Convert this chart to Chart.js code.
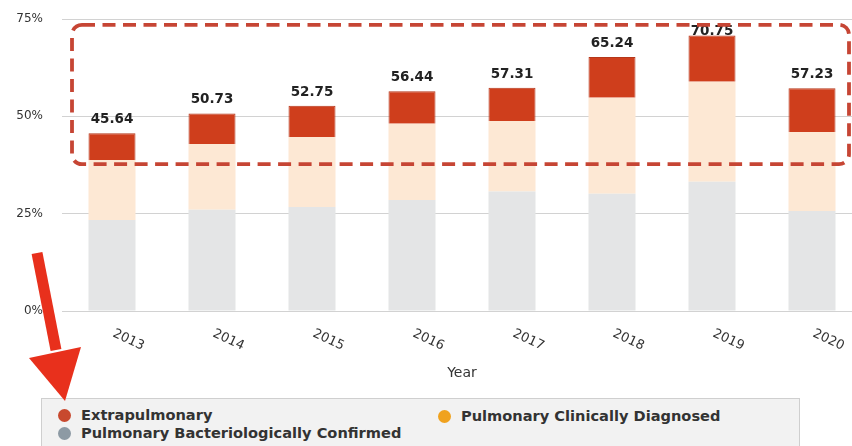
<!DOCTYPE html>
<html>
<head>
<meta charset="utf-8">
<script src="https://cdn.jsdelivr.net/npm/chart.js@4/dist/chart.umd.min.js"></script>
<style>
  html, body { margin: 0; padding: 0; background: #fff; overflow: hidden; }
  #wrap { position: relative; width: 872px; height: 446px; }
  #chart { position: absolute; left: 0; top: 0; z-index: 2; }
  #legendBox { position: absolute; left: 41px; top: 398px; width: 757px; height: 60px;
    background: #f2f2f2; border: 1px solid #cfcfcf; z-index: 1; }
  .item { position: absolute; z-index: 1; height: 18px; line-height: 18px; white-space: nowrap;
    font: bold 14.6px "DejaVu Sans", sans-serif; color: #333; }
  .dot { display: inline-block; width: 13px; height: 13px; border-radius: 50%;
    vertical-align: -2px; margin-right: 10px; }
</style>
</head>
<body>
<div id="wrap">
  <div id="legendBox"></div>
  <div class="item" style="left:58px; top:406px;"><span class="dot" style="background:#c8492e"></span>Extrapulmonary</div>
  <div class="item" style="left:58px; top:424px;"><span class="dot" style="background:#8d9aa4"></span>Pulmonary Bacteriologically Confirmed</div>
  <div class="item" style="left:438px; top:407px;"><span class="dot" style="background:#f0a21e"></span>Pulmonary Clinically Diagnosed</div>
  <canvas id="chart" width="872" height="446"></canvas>
</div>
<script>
const years = ['2013', '2014', '2015', '2016', '2017', '2018', '2019', '2020'];
const bactConfirmed = [23.4, 26.0, 26.7, 28.5, 30.7, 30.1, 33.2, 25.7];
const clinDiagnosed = [15.4, 16.9, 18.0, 19.6, 18.1, 24.7, 25.7, 20.3];
const extrapulmonary = [6.84, 7.83, 8.05, 8.34, 8.51, 10.44, 11.85, 11.23];
const yTicks = [0, 25, 50, 75];

// totals above each stack
const totalLabels = {
  id: 'totalLabels',
  afterDatasetsDraw(chart) {
    const ctx = chart.ctx;
    const meta = chart.getDatasetMeta(2);
    ctx.save();
    ctx.font = 'bold 13.5px "DejaVu Sans", sans-serif';
    ctx.fillStyle = '#222';
    ctx.textAlign = 'center';
    ctx.textBaseline = 'alphabetic';
    meta.data.forEach(function(bar, i) {
      const total = bactConfirmed[i] + clinDiagnosed[i] + extrapulmonary[i];
      const y = Math.max(bar.y - 10, chart.chartArea.top + 16);
      ctx.fillText(total.toFixed(2), bar.x, y);
    });
    ctx.restore();
  }
};

// x labels slanted downward like the original
const slantedTicks = {
  id: 'slantedTicks',
  afterDraw(chart) {
    const ctx = chart.ctx;
    const xs = chart.scales.x;
    ctx.save();
    ctx.font = '13px "DejaVu Sans", sans-serif';
    ctx.fillStyle = '#333';
    ctx.textAlign = 'left';
    ctx.textBaseline = 'middle';
    years.forEach(function(y, i) {
      ctx.save();
      ctx.translate(xs.getPixelForValue(i) + 1.5, chart.chartArea.bottom + 22);
      ctx.rotate(25 * Math.PI / 180);
      ctx.fillText(y, 0, 0);
      ctx.restore();
    });
    ctx.restore();
  }
};

// dashed highlight box + red arrow
const annotations = {
  id: 'annotations',
  afterDraw(chart) {
    const ctx = chart.ctx;
    const xs = chart.scales.x, ys = chart.scales.y;
    const left = xs.getPixelForValue(0) - 40;
    const right = xs.getPixelForValue(7) + 37;
    const top = ys.getPixelForValue(73.5);
    const bottom = ys.getPixelForValue(37.7);
    ctx.save();
    ctx.strokeStyle = '#c64534';
    ctx.lineWidth = 3.8;
    ctx.setLineDash([13, 7.5]);
    ctx.beginPath();
    ctx.roundRect(left, top, right - left, bottom - top, 10);
    ctx.stroke();
    ctx.setLineDash([]);

    ctx.strokeStyle = '#e8301c';
    ctx.fillStyle = '#e8301c';
    ctx.lineWidth = 11;
    ctx.beginPath();
    ctx.moveTo(37, 253);
    ctx.lineTo(56, 350);
    ctx.stroke();
    ctx.beginPath();
    ctx.moveTo(29, 358);
    ctx.lineTo(81, 347);
    ctx.lineTo(65, 401);
    ctx.closePath();
    ctx.fill();
    ctx.restore();
  }
};

new Chart(document.getElementById('chart'), {
  type: 'bar',
  data: {
    labels: years,
    datasets: [
      { label: 'Pulmonary Bacteriologically Confirmed', data: bactConfirmed, backgroundColor: '#e4e5e6' },
      { label: 'Pulmonary Clinically Diagnosed', data: clinDiagnosed, backgroundColor: '#fde8d4' },
      { label: 'Extrapulmonary', data: extrapulmonary, backgroundColor: '#cf3e1c', borderColor: '#b5371a', borderWidth: 1 }
    ]
  },
  options: {
    responsive: false,
    animation: false,
    layout: { padding: { top: 19, right: 10, left: 0, bottom: 0 } },
    datasets: { bar: { barPercentage: 0.47, categoryPercentage: 1 } },
    scales: {
      x: {
        stacked: true,
        grid: { display: false },
        border: { display: false },
        ticks: { display: false },
        title: {
          display: true, text: 'Year', color: '#333',
          font: { family: '"DejaVu Sans", sans-serif', size: 14 },
          padding: { top: 0, bottom: 64 }
        },
        afterFit(scale) { scale.height = 135; }
      },
      y: {
        stacked: true,
        min: 0,
        max: 75,
        afterBuildTicks(scale) { scale.ticks = yTicks.map(v => ({ value: v })); },
        grid: { color: '#d2d2d2', drawTicks: false },
        border: { display: false },
        ticks: {
          padding: 19,
          color: '#333',
          font: { family: '"DejaVu Sans", sans-serif', size: 12 },
          callback: v => v + '%'
        },
        afterFit(scale) {
          scale.width = 62;
          scale.paddingTop = 0;
          scale.paddingBottom = 0;
        }
      }
    },
    plugins: {
      legend: { display: false },
      tooltip: { enabled: false }
    }
  },
  plugins: [totalLabels, slantedTicks, annotations]
});
</script>
</body>
</html>
